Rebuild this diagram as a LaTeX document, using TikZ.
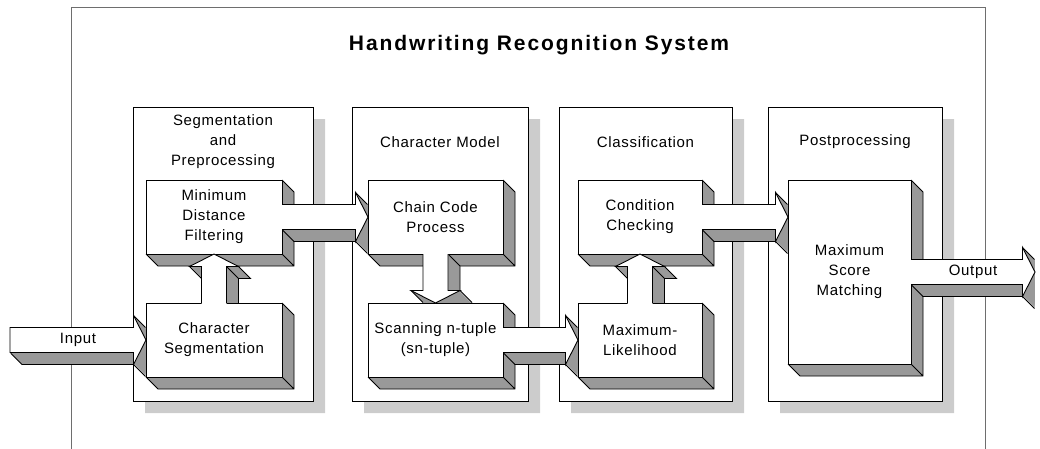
\documentclass[tikz,border=0pt]{standalone}
\usepackage{fontspec}
\setmainfont{Liberation Sans}
\newfontfamily\boxfont[LetterSpace=4.5]{Liberation Sans}
\newfontfamily\headfont[LetterSpace=9]{Liberation Sans}
\usetikzlibrary{calc,backgrounds}
\definecolor{sidegray}{RGB}{153,153,153}
\definecolor{shadowgray}{RGB}{204,204,204}
\definecolor{framegray}{RGB}{110,110,110}

\newcommand{\boxtext}{\boxfont\fontsize{15pt}{20pt}\selectfont}
\newcommand{\headtext}{\headfont\bfseries\fontsize{21pt}{25pt}\selectfont}

% Block arrow outlines, (t) = tail, (h) = tip
\newcommand{\rightpath}{($(t)+(0,-12.5)$) -- ($(h)+(-12.5,-12.5)$) -- ($(h)+(-12.5,-24.5)$) -- (h) -- ($(h)+(-12.5,24.5)$) -- ($(h)+(-12.5,12.5)$) -- ($(t)+(0,12.5)$)}
\newcommand{\uppath}{($(t)+(-12.5,0)$) -- ($(h)+(-12.5,12.5)$) -- ($(h)+(-24.5,12.5)$) -- (h) -- ($(h)+(24.5,12.5)$) -- ($(h)+(12.5,12.5)$) -- ($(t)+(12.5,0)$)}
\newcommand{\downpath}{($(t)+(12.5,0)$) -- ($(h)+(12.5,-12.5)$) -- ($(h)+(24.5,-12.5)$) -- (h) -- ($(h)+(-24.5,-12.5)$) -- ($(h)+(-12.5,-12.5)$) -- ($(t)+(-12.5,0)$)}

% 3D arrow to the right: [closing] {tail} {tip}
\newcommand{\rightblock}[3][]{%
  \begin{scope}
    \clip ($(#2)+(0.5,-40)$) rectangle ($(#3)+(-0.5,40)$);
    \foreach \k in {0,0.5,...,12}{
      \coordinate (t) at ($(#2)+(\k,\k)$);
      \coordinate (h) at ($(#3)+(\k,\k)$);
      \fill[sidegray] \rightpath -- cycle;
    }
    \coordinate (t) at (#2); \coordinate (h) at (#3);
    \draw[rim] ($(h)+(-12.5,-24.5)$) -- ++(12,12)
      ($(h)+(-12.5,24.5)$) -- ++(12,12)
      ($(t)+(0,12.5)$) -- ++(12,12) -- ($(h)+(-12.5,24.5)$);
  \end{scope}
  \coordinate (t) at ($(#2)+(-1,0)$);
  \fill[white] \rightpath -- cycle;
  \coordinate (t) at (#2);
  \draw[rim] \rightpath #1;
}

% 3D arrow upwards: {tail} {tip}
\newcommand{\upblock}[2]{%
  \begin{scope}
    \clip ($(#1)+(-40,-0.5)$) rectangle ($(#2)+(40,0.5)$);
    \foreach \k in {0,0.5,...,12}{
      \coordinate (t) at ($(#1)+(\k,\k)$);
      \coordinate (h) at ($(#2)+(\k,\k)$);
      \fill[sidegray] \uppath -- cycle;
    }
    \coordinate (t) at (#1); \coordinate (h) at (#2);
    \draw[rim] ($(h)+(-24.5,12.5)$) -- ++(12,12)
      ($(h)+(24.5,12.5)$) -- ++(12,12) -- ++(-12,0) -- ($(t)+(24.5,12)$)
      ($(h)+(12.5,12.5)$) -- ++(12,12);
  \end{scope}
  \coordinate (t) at ($(#1)+(0,1)$);
  \fill[white] \uppath -- cycle;
  \coordinate (t) at (#1);
  \draw[rim] \uppath;
}

% 3D arrow downwards: {tail} {tip}
\newcommand{\downblock}[2]{%
  \begin{scope}
    \clip ($(#1)+(-40,0.5)$) rectangle ($(#2)+(40,-0.5)$);
    \foreach \k in {0,0.5,...,12}{
      \coordinate (t) at ($(#1)+(\k,\k)$);
      \coordinate (h) at ($(#2)+(\k,\k)$);
      \fill[sidegray] \downpath -- cycle;
    }
    \coordinate (t) at (#1); \coordinate (h) at (#2);
    \draw[rim] ($(t)+(12.5,0)$) -- ++(12,12) -- ($(h)+(24.5,-12.5)$)
      ($(h)+(24.5,-12.5)$) -- ++(12,12)
      ($(h)+(-24.5,-12.5)$) -- ++(12,12);
  \end{scope}
  \coordinate (t) at ($(#1)+(0,-1)$);
  \fill[white] \downpath -- cycle;
  \coordinate (t) at (#1);
  \draw[rim] \downpath;
}

% Depth of a box node
\newcommand{\extrude}[1]{%
  \begin{scope}[on background layer]
    \fill[sidegray] (#1.north east) -- ++(12,12) -- ($(#1.south east)+(12,12)$) -- ($(#1.south west)+(12,12)$) -- (#1.south west) -- (#1.south east) -- cycle;
    \draw[rim] (#1.north east) -- ++(12,12) -- ($(#1.south east)+(12,12)$) -- ($(#1.south west)+(12,12)$) -- (#1.south west)
      (#1.south east) -- ++(12,12);
  \end{scope}}

% Shadow of a panel node
\newcommand{\panelshadow}[1]{%
  \begin{scope}[on background layer]
    \fill[shadowgray] ($(#1.north east)+(0,12)$) rectangle ($(#1.south east)+(12,12)$)
      ($(#1.south west)+(12,0)$) rectangle ($(#1.south east)+(12,12)$);
  \end{scope}}

\begin{document}
\begin{tikzpicture}[x=1pt, y=-1pt,
    rim/.style={draw=black, line width=0.9pt},
    face/.style={draw=black, fill=white, line width=0.9pt, inner sep=0pt, outer sep=0pt, align=center, font=\boxtext},
    panel/.style={draw=black, line width=0.9pt, inner sep=0pt, outer sep=0pt, minimum height=294pt},
    ptitle/.style={align=center, font=\boxtext, inner sep=0pt},
    flowlabel/.style={font=\boxtext, inner sep=0pt}
]
\useasboundingbox (0,0) rectangle (1040,448);

% Outer frame & title
\draw[framegray, line width=0.9pt] (71,7) rectangle (985,470);
\node[font=\headtext] (title) at (539,45) {Handwriting Recognition System};

% Panels
\foreach \pname/\px/\pw in {seg/223/180, model/440/176, classif/645.5/173, post/855/174}{
  \node[panel, minimum width=\pw pt] (\pname) at (\px,254) {};
  \panelshadow{\pname}
}
\node[ptitle] (segtitle) at ($(seg.north)+(0,35)$) {Segmentation\\and\\Preprocessing};
\node[ptitle] (modeltitle) at ($(model.north)+(0,35)$) {Character Model};
\node[ptitle] (classiftitle) at ($(classif.north)+(0,35)$) {Classification};
\node[ptitle] (posttitle) at ($(post.north)+(0,35)$) {Postprocessing};

% Boxes
\node[face, minimum width=136pt, minimum height=74pt] (mdf) at (214,217) {Minimum\\Distance\\Filtering};
\node[face, minimum width=136pt, minimum height=74pt] (cseg) at (214,340) {Character\\Segmentation};
\node[face, minimum width=135pt, minimum height=74pt] (ccp) at (435.5,217) {Chain Code\\Process};
\node[face, minimum width=135pt, minimum height=74pt] (scan) at (435.5,340) {Scanning n-tuple\\(sn-tuple)};
\node[face, minimum width=124pt, minimum height=74pt] (cc) at (640,217) {Condition\\Checking};
\node[face, minimum width=124pt, minimum height=74pt] (ml) at (640,340) {Maximum-\\Likelihood};
\node[face, minimum width=123pt, minimum height=184pt] (msm) at (849.5,272) {Maximum\\Score\\Matching};
\foreach \b in {mdf,cseg,ccp,scan,cc,ml,msm}{\extrude{\b}}

% Arrows
\coordinate (in) at (10,340);
\coordinate (out) at (1035,272);
\coordinate (msmin) at (msm.west |- cc.east);
\rightblock[-- cycle]{in}{cseg.west}
\upblock{cseg.north}{mdf.south}
\rightblock{mdf.east}{ccp.west}
\downblock{ccp.south}{scan.north}
\rightblock{scan.east}{ml.west}
\upblock{ml.north}{cc.south}
\rightblock{cc.east}{msmin}
\rightblock{msm.east}{out}

\node[flowlabel] (inlabel) at ($(in)!0.5!(cseg.west)$) {Input};
\node[flowlabel] (outlabel) at ($(msm.east)!0.5!(out)$) {Output};

\end{tikzpicture}
\end{document}
